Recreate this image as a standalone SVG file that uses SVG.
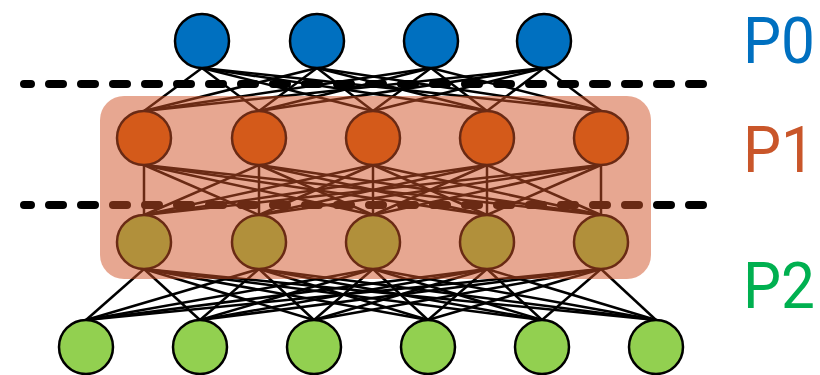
<svg xmlns="http://www.w3.org/2000/svg" width="820" height="375" viewBox="0 0 820 375">
<style>
.e{stroke:#000;stroke-width:2.5;fill:none}
.dash{stroke:#000;stroke-width:8;stroke-linecap:round;stroke-dasharray:14 18;stroke-dashoffset:7;fill:none}
.n{stroke:#000;stroke-width:2.5}
.b{fill:#0070C0}
.o{fill:#D8620E}
.g{fill:#92D050}
.lbl{font-family:Roboto,"Open Sans","Liberation Sans",sans-serif;font-size:64px}
</style>
<rect width="820" height="375" fill="#fff"/>
<g id="connectors">
<line class="e" x1="202" y1="68" x2="144" y2="111"/><line class="e" x1="202" y1="68" x2="259" y2="111"/><line class="e" x1="202" y1="68" x2="373" y2="111"/><line class="e" x1="202" y1="68" x2="487" y2="111"/><line class="e" x1="202" y1="68" x2="601" y2="111"/>
<line class="e" x1="317" y1="68" x2="144" y2="111"/><line class="e" x1="317" y1="68" x2="259" y2="111"/><line class="e" x1="317" y1="68" x2="373" y2="111"/><line class="e" x1="317" y1="68" x2="487" y2="111"/><line class="e" x1="317" y1="68" x2="601" y2="111"/>
<line class="e" x1="431" y1="68" x2="144" y2="111"/><line class="e" x1="431" y1="68" x2="259" y2="111"/><line class="e" x1="431" y1="68" x2="373" y2="111"/><line class="e" x1="431" y1="68" x2="487" y2="111"/><line class="e" x1="431" y1="68" x2="601" y2="111"/>
<line class="e" x1="544" y1="68" x2="144" y2="111"/><line class="e" x1="544" y1="68" x2="259" y2="111"/><line class="e" x1="544" y1="68" x2="373" y2="111"/><line class="e" x1="544" y1="68" x2="487" y2="111"/><line class="e" x1="544" y1="68" x2="601" y2="111"/>

<line class="e" x1="144" y1="165" x2="144" y2="215"/><line class="e" x1="144" y1="165" x2="259" y2="215"/><line class="e" x1="144" y1="165" x2="373" y2="215"/><line class="e" x1="144" y1="165" x2="487" y2="215"/><line class="e" x1="144" y1="165" x2="601" y2="215"/>
<line class="e" x1="259" y1="165" x2="144" y2="215"/><line class="e" x1="259" y1="165" x2="259" y2="215"/><line class="e" x1="259" y1="165" x2="373" y2="215"/><line class="e" x1="259" y1="165" x2="487" y2="215"/><line class="e" x1="259" y1="165" x2="601" y2="215"/>
<line class="e" x1="373" y1="165" x2="144" y2="215"/><line class="e" x1="373" y1="165" x2="259" y2="215"/><line class="e" x1="373" y1="165" x2="373" y2="215"/><line class="e" x1="373" y1="165" x2="487" y2="215"/><line class="e" x1="373" y1="165" x2="601" y2="215"/>
<line class="e" x1="487" y1="165" x2="144" y2="215"/><line class="e" x1="487" y1="165" x2="259" y2="215"/><line class="e" x1="487" y1="165" x2="373" y2="215"/><line class="e" x1="487" y1="165" x2="487" y2="215"/><line class="e" x1="487" y1="165" x2="601" y2="215"/>
<line class="e" x1="601" y1="165" x2="144" y2="215"/><line class="e" x1="601" y1="165" x2="259" y2="215"/><line class="e" x1="601" y1="165" x2="373" y2="215"/><line class="e" x1="601" y1="165" x2="487" y2="215"/><line class="e" x1="601" y1="165" x2="601" y2="215"/>

<line class="e" x1="144" y1="269" x2="86" y2="320"/><line class="e" x1="144" y1="269" x2="200" y2="320"/><line class="e" x1="144" y1="269" x2="314" y2="320"/><line class="e" x1="144" y1="269" x2="428" y2="320"/><line class="e" x1="144" y1="269" x2="542" y2="320"/><line class="e" x1="144" y1="269" x2="656" y2="320"/>
<line class="e" x1="259" y1="269" x2="86" y2="320"/><line class="e" x1="259" y1="269" x2="200" y2="320"/><line class="e" x1="259" y1="269" x2="314" y2="320"/><line class="e" x1="259" y1="269" x2="428" y2="320"/><line class="e" x1="259" y1="269" x2="542" y2="320"/><line class="e" x1="259" y1="269" x2="656" y2="320"/>
<line class="e" x1="373" y1="269" x2="86" y2="320"/><line class="e" x1="373" y1="269" x2="200" y2="320"/><line class="e" x1="373" y1="269" x2="314" y2="320"/><line class="e" x1="373" y1="269" x2="428" y2="320"/><line class="e" x1="373" y1="269" x2="542" y2="320"/><line class="e" x1="373" y1="269" x2="656" y2="320"/>
<line class="e" x1="487" y1="269" x2="86" y2="320"/><line class="e" x1="487" y1="269" x2="200" y2="320"/><line class="e" x1="487" y1="269" x2="314" y2="320"/><line class="e" x1="487" y1="269" x2="428" y2="320"/><line class="e" x1="487" y1="269" x2="542" y2="320"/><line class="e" x1="487" y1="269" x2="656" y2="320"/>
<line class="e" x1="601" y1="269" x2="86" y2="320"/><line class="e" x1="601" y1="269" x2="200" y2="320"/><line class="e" x1="601" y1="269" x2="314" y2="320"/><line class="e" x1="601" y1="269" x2="428" y2="320"/><line class="e" x1="601" y1="269" x2="542" y2="320"/><line class="e" x1="601" y1="269" x2="656" y2="320"/>
</g>
<g id="partition-lines">
<line class="dash" x1="24" y1="84" x2="703" y2="84"/>
<line class="dash" x1="24" y1="205" x2="703" y2="205"/>
</g>
<g id="p0-nodes">
<circle id="b1" class="n b" cx="202" cy="41" r="27"/>
<circle id="b2" class="n b" cx="317" cy="41" r="27"/>
<circle id="b3" class="n b" cx="431" cy="41" r="27"/>
<circle id="b4" class="n b" cx="544" cy="41" r="27"/>
</g>
<g id="p1-upper-nodes">
<circle id="o1" class="n o" cx="144" cy="138" r="27"/>
<circle id="o2" class="n o" cx="259" cy="138" r="27"/>
<circle id="o3" class="n o" cx="373" cy="138" r="27"/>
<circle id="o4" class="n o" cx="487" cy="138" r="27"/>
<circle id="o5" class="n o" cx="601" cy="138" r="27"/>
</g>
<g id="p1-lower-nodes">
<circle id="l1" class="n g" cx="144" cy="242" r="27"/>
<circle id="l2" class="n g" cx="259" cy="242" r="27"/>
<circle id="l3" class="n g" cx="373" cy="242" r="27"/>
<circle id="l4" class="n g" cx="487" cy="242" r="27"/>
<circle id="l5" class="n g" cx="601" cy="242" r="27"/>
</g>
<g id="p2-nodes">
<circle id="g1" class="n g" cx="86" cy="347" r="27"/>
<circle id="g2" class="n g" cx="200" cy="347" r="27"/>
<circle id="g3" class="n g" cx="314" cy="347" r="27"/>
<circle id="g4" class="n g" cx="428" cy="347" r="27"/>
<circle id="g5" class="n g" cx="542" cy="347" r="27"/>
<circle id="g6" class="n g" cx="656" cy="347" r="27"/>
</g>
<g id="p1-region">
<rect x="100" y="96" width="551" height="183" rx="24" fill="#D05227" opacity="0.51"/>
</g>
<g id="labels">
<text class="lbl" x="743" y="63" fill="#0070C0" textLength="72" lengthAdjust="spacingAndGlyphs">P0</text>
<text class="lbl" x="743" y="172" fill="#C9562A" textLength="72" lengthAdjust="spacingAndGlyphs">P1</text>
<text class="lbl" x="743" y="308" fill="#00B050" textLength="72" lengthAdjust="spacingAndGlyphs">P2</text>
</g>
</svg>
